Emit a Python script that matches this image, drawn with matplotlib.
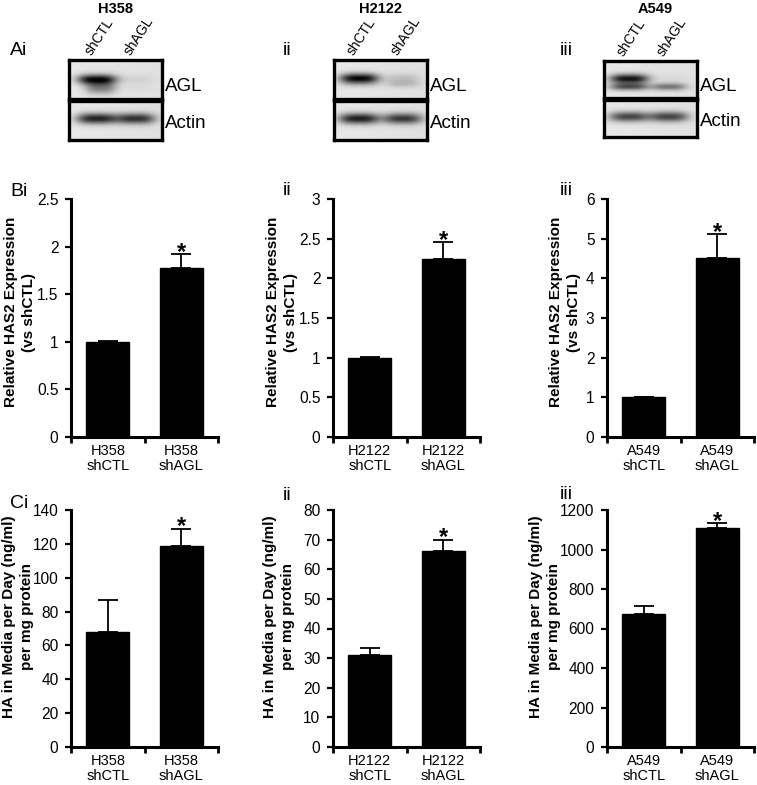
import numpy as np
import matplotlib
matplotlib.use("Agg")
import matplotlib.pyplot as plt
from matplotlib.ticker import MultipleLocator, FormatStrFormatter, FixedLocator

plt.rcParams['font.family'] = ['Liberation Sans', 'DejaVu Sans']

W, H = 757, 785
fig = plt.figure(figsize=(W / 100, H / 100), dpi=100)

# ---------------- data ----------------
cell_lines = ["H358", "H2122", "A549"]
groups = ["shCTL", "shAGL"]

has2_mean = [[1.0, 1.77], [1.0, 2.24], [1.0, 4.52]]
has2_err = [[0.005, 0.15], [0.005, 0.22], [0.01, 0.59]]
has2_ylim = [2.5, 3, 6]
has2_step = [0.5, 0.5, 1]

ha_mean = [[68, 119], [31, 66], [673, 1109]]
ha_err = [[19, 10], [2.5, 4.0], [42, 23]]
ha_ylim = [140, 80, 1200]
ha_step = [20, 10, 200]

# western blot band intensities (0 = none, 1 = saturated), [shCTL, shAGL]
agl_upper = [[1.0, 0.08], [1.0, 0.16], [0.95, 0.05]]
agl_lower = [[0.0, 0.03], [0.10, 0.16], [0.65, 0.50]]
actin_band = [[0.88, 0.82], [0.90, 0.78], [0.72, 0.72]]

blot_labels = ["AGL", "Actin"]
row_labels_A = ["Ai", "ii", "iii"]
row_labels_B = ["Bi", "ii", "iii"]
row_labels_C = ["Ci", "ii", "iii"]

# ---------------- helpers ----------------
def px_axes(l, t, r, b):
    return fig.add_axes([l / W, 1 - b / H, (r - l) / W, (b - t) / H])

def fx(x):
    return x / W

def fy(y):
    return 1 - y / H

def blot_image(upper, lower, yu, yl, lanes, widths, su=0.13, sl=0.10,
               nx=140, ny=60, smear=0.0):
    xs = np.linspace(0, 1, nx)[None, :]
    ys = np.linspace(0, 1, ny)[:, None]
    bg = 0.91 - 0.03 * xs
    dark = np.zeros((ny, nx))
    for i, lx in enumerate(lanes):
        sx = np.exp(-np.abs((xs - lx) / widths[i]) ** 3)
        dark += upper[i] * sx * np.exp(-((ys - yu) / su) ** 2)
        dark += lower[i] * sx * np.exp(-((ys - yl) / sl) ** 2)
        if smear and i == 0:
            sx2 = np.exp(-np.abs((xs - lx - 0.04) / (widths[i] * 0.8)) ** 3)
            dark += smear * sx2 * np.exp(-((ys - (yu + 0.22)) / 0.16) ** 2)
    img = bg * (1 - np.clip(dark, 0, 1) * 0.97)
    return img

blot_boxes = [
    ((69, 60, 162, 99), (69, 101, 162, 140)),
    ((334, 60, 427, 99), (334, 101, 427, 140)),
    ((604, 61, 697, 98), (604, 100, 697, 137)),
]
lane_pos = [[0.30, 0.72], [0.27, 0.74], [0.27, 0.70]]
lane_w = [0.21, 0.19]
upper_y = [0.50, 0.47, 0.48]
lower_y = [0.72, 0.62, 0.70]
title_x = [115, 380, 655]
label_x_A = [10, 283, 560]

for k in range(3):
    (agl_box, act_box) = blot_boxes[k]
    lanes = lane_pos[k]
    # AGL
    ax = px_axes(*agl_box)
    img = blot_image(agl_upper[k], agl_lower[k], upper_y[k], lower_y[k], lanes,
                     lane_w, smear=0.45 if k == 0 else 0.0)
    ax.imshow(img, cmap="gray", vmin=0, vmax=1, aspect="auto",
              extent=(0, 1, 1, 0), interpolation="bilinear")
    ax.set_xticks([]); ax.set_yticks([])
    for s in ax.spines.values():
        s.set_linewidth(2.4)
    ax.text(1.03, 0.32, blot_labels[0], transform=ax.transAxes, ha="left",
            va="center", fontsize=13.5)
    for i, g in enumerate(groups):
        ax.text(lanes[i] - 0.03, 1.07, g, transform=ax.transAxes, rotation=57,
                rotation_mode="anchor", ha="left", va="bottom", fontsize=10)
    # Actin
    ax2 = px_axes(*act_box)
    img2 = blot_image(actin_band[k], [0, 0], 0.45, 0.7, lanes,
                      [0.22, 0.21], su=0.14)
    ax2.imshow(img2, cmap="gray", vmin=0, vmax=1, aspect="auto",
               extent=(0, 1, 1, 0), interpolation="bilinear")
    ax2.set_xticks([]); ax2.set_yticks([])
    for s in ax2.spines.values():
        s.set_linewidth(2.4)
    ax2.text(1.03, 0.42, blot_labels[1], transform=ax2.transAxes, ha="left",
             va="center", fontsize=13.5)
    fig.text(fx(title_x[k]), fy(9), cell_lines[k], ha="center", va="center",
             fontsize=10.5, fontweight="bold")
    fig.text(fx(label_x_A[k]), fy(55), row_labels_A[k], ha="left",
             va="baseline", fontsize=14)

# ---------------- bar charts ----------------
col_left = [71, 333, 607]
col_w = 147
label_cx_B = [20, 282, 565]
label_cx_C = [18, 279, 545]
label_base_B = [196, 195, 195]
label_base_C = [508, 500, 499]


def bar_panel(ax, means, errs, ymax, step, cell, ylabel, lab_cx, lab_cy):
    x = np.arange(len(means))
    ax.bar(x, means, width=0.59, color="black", edgecolor="black", zorder=2)
    ax.errorbar(x, means, yerr=[np.zeros(len(errs)), errs], fmt="none",
                ecolor="black", elinewidth=1.3, capsize=7, capthick=1.3, zorder=1)
    ax.set_xlim(-0.5, 1.5)
    ax.set_ylim(0, ymax)
    ax.yaxis.set_major_locator(MultipleLocator(step))
    ax.yaxis.set_major_formatter(FormatStrFormatter("%g"))
    ax.set_xticks(x)
    ax.set_xticklabels([f"{cell}\n{g}" for g in groups], fontsize=10.5,
                       linespacing=1.1)
    ax.xaxis.set_minor_locator(FixedLocator([-0.5, 0.5, 1.5]))
    ax.tick_params(axis="x", which="major", length=0, pad=5)
    ax.tick_params(axis="x", which="minor", length=4, width=2, direction="out")
    ax.tick_params(axis="y", which="major", length=4, width=1.6, direction="out",
                   labelsize=11.2, pad=5)
    for s in ["top", "right"]:
        ax.spines[s].set_visible(False)
    for s in ["left", "bottom"]:
        ax.spines[s].set_linewidth(2.2)
    # significance star above the shAGL bar
    ax.annotate("*", xy=(1, means[1] + errs[1]), xytext=(0, -3.5),
                textcoords="offset points", ha="center", va="baseline",
                fontsize=17, fontweight="bold")
    fig.text(fx(lab_cx), fy(lab_cy), ylabel, rotation=90, ha="center",
             va="center", fontsize=11, fontweight="bold", multialignment="center",
             linespacing=1.35)

for k in range(3):
    axb = px_axes(col_left[k], 199, col_left[k] + col_w, 437)
    bar_panel(axb, has2_mean[k], has2_err[k], has2_ylim[k], has2_step[k],
              cell_lines[k], "Relative HAS2 Expression\n(vs shCTL)",
              label_cx_B[k], 312)
    fig.text(fx(label_x_A[k]), fy(label_base_B[k]), row_labels_B[k], ha="left",
             va="baseline", fontsize=14)

    axc = px_axes(col_left[k], 510, col_left[k] + col_w, 747)
    bar_panel(axc, ha_mean[k], ha_err[k], ha_ylim[k], ha_step[k],
              cell_lines[k], "HA in Media per Day (ng/ml)\nper mg protein",
              label_cx_C[k], 617)
    fig.text(fx(label_x_A[k]), fy(label_base_C[k]), row_labels_C[k], ha="left",
             va="baseline", fontsize=14)

fig.savefig("out.png", dpi=100)
